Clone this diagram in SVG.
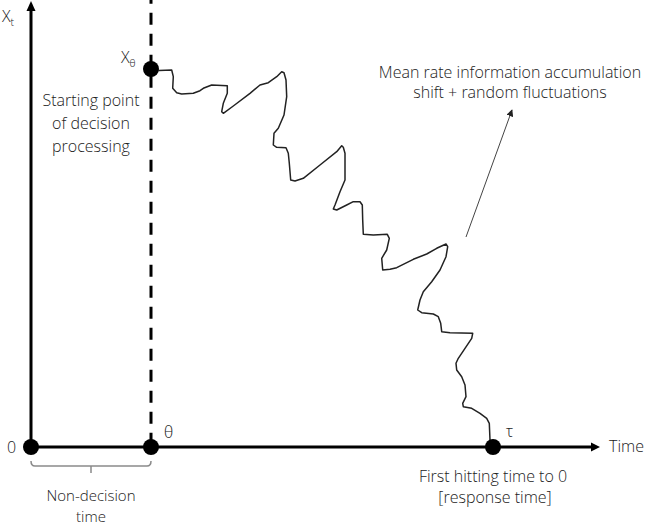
<svg xmlns="http://www.w3.org/2000/svg" width="646" height="526" viewBox="0 0 646 526">
<style>
text{font-family:"Open Sans","Noto Sans","Liberation Sans",sans-serif;font-size:16px;font-weight:300;fill:#222}
.mid{text-anchor:middle}
.sm{font-size:15px}
.sub{font-size:10.5px}
.axis{stroke:#000;stroke-width:3;fill:none}
.dash{stroke:#000;stroke-width:3;stroke-dasharray:12 9;stroke-dashoffset:8.3;fill:none}
.walk{stroke:#222;stroke-width:1.5;fill:none;stroke-linejoin:round;stroke-linecap:round}
.dot{fill:#000}
.brace{stroke:#8a8a8a;stroke-width:1.5;fill:none}
.note{stroke:#444;stroke-width:1;fill:none}
</style>
<defs>
<marker id="ah" viewBox="0 0 10 10" refX="9" refY="5" markerWidth="7" markerHeight="7" orient="auto" markerUnits="userSpaceOnUse">
<path d="M0,0 L10,5 L0,10 z" fill="#222"/>
</marker>
</defs>
<rect width="646" height="526" fill="#fff"/>
<g id="connectors">
<line class="dash" x1="151" y1="0" x2="151" y2="447"/>
<line class="axis" x1="31" y1="447" x2="31" y2="10"/>
<polygon points="31,1 26.5,11 35.5,11" fill="#000"/>
<line class="axis" x1="31" y1="447" x2="592" y2="447"/>
<polygon points="600,447 591,442.5 591,451.5" fill="#000"/>
<polyline class="walk" points="159,70.5 171.7,70 173.3,76.7 172.7,88.3 176.7,92.7 181.7,94 193.3,93.3 200,90.7 203.3,88.3 211.7,85 227.3,85.7 227.3,93.3 223.3,103.3 221.7,111.7 223.3,113.3 233.3,106 250,93.3 260,85 268.3,82.7 276.7,76.7 281.7,71.7 284,72.7 286,80 286.7,96.7 284,115 278.3,128.3 274,133.3 273.3,145 276.7,147.3 286,147.7 288.3,153.3 289.3,163.3 290.7,180 295,181 303.3,178.3 320,165 336.7,151.7 341.7,145.7 343.3,147.3 345,153.3 345,180 340,191.7 335,205 333.3,209 336.7,210 346.7,205 353.3,201.7 360,201.7 362.3,205 362.7,220 363.3,234.3 373.3,235 387.3,234.3 389.3,238.3 386.7,250 381.7,258.3 382.7,270 390,269.3 396.7,267.7 413.3,259.3 426.7,254 436.7,248.3 446,244 447.7,246.7 446,256.7 440,270 431.7,281.7 423.3,291.7 420,300 417.7,310 421.7,312.7 433.3,314 438.3,316.7 440.7,323.3 441.7,331.7 450,332.7 472.7,333.3 471.7,338.3 465,348.3 458.3,358.3 456,363.3 456.7,370 461.7,376.7 465,385 466,396.7 462.7,403.3 463.3,406.7 471.7,408.3 480,413.3 486.7,418.3 489.3,423.3 490,440 493,446"/>
<line class="note" x1="466" y1="237" x2="512" y2="110" marker-end="url(#ah)"/>
<path class="brace" d="M31,461 Q31,466 35,466 L147,466 Q151,466 151,461 M91,466 L91,473"/>
</g>
<g id="node-origin"><circle class="dot" cx="31" cy="447" r="8"/></g>
<g id="node-theta"><circle class="dot" cx="151" cy="447" r="8"/></g>
<g id="node-start"><circle class="dot" cx="151" cy="69" r="8"/></g>
<g id="node-tau"><circle class="dot" cx="493" cy="447" r="8"/></g>
<g id="labels">
<text x="2" y="22">X<tspan class="sub" dy="4">t</tspan></text>
<text x="121" y="63">X<tspan class="sub" dy="4">θ</tspan></text>
<text class="mid" x="91" y="106">Starting point</text>
<text class="mid" x="91" y="129">of decision</text>
<text class="mid" x="91" y="152">processing</text>
<text class="mid" x="510" y="78">Mean rate information accumulation</text>
<text class="mid" x="510" y="98">shift + random fluctuations</text>
<text x="7" y="453">0</text>
<text x="164" y="438">θ</text>
<text x="506" y="437">τ</text>
<text x="609" y="452">Time</text>
<text class="mid" x="493" y="482">First hitting time to 0</text>
<text class="mid" x="495" y="503">[response time]</text>
<text class="mid sm" x="91" y="501">Non-decision</text>
<text class="mid sm" x="91" y="522">time</text>
</g>
</svg>
